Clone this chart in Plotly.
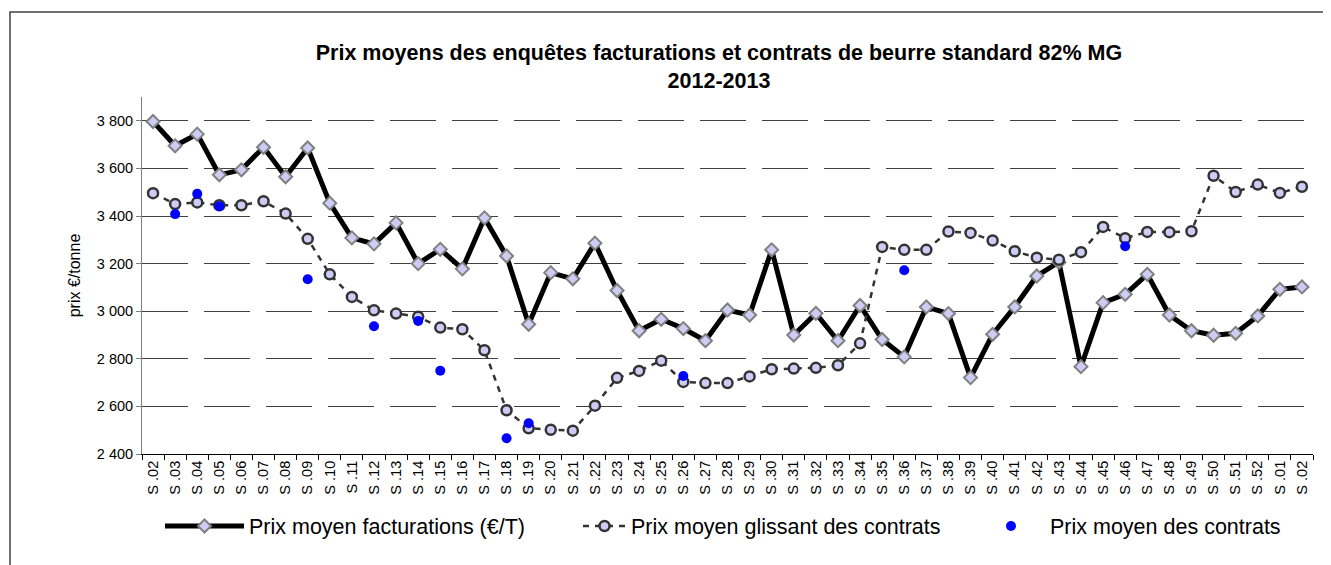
import plotly.graph_objects as go

# ---- data ----
semaines = ["S .02", "S .03", "S .04", "S .05", "S .06", "S .07", "S .08", "S .09", "S .10",
            "S .11", "S .12", "S .13", "S .14", "S .15", "S .16", "S .17", "S .18", "S .19", "S .20",
            "S .21", "S .22", "S .23", "S .24", "S .25", "S .26", "S .27", "S .28", "S .29", "S .30",
            "S .31", "S .32", "S .33", "S .34", "S .35", "S .36", "S .37", "S .38", "S .39", "S .40",
            "S .41", "S .42", "S .43", "S .44", "S .45", "S .46", "S .47", "S .48", "S .49", "S .50",
            "S .51", "S .52", "S .01", "S .02"]
annees = [2012] * 51 + [2013] * 2
periodes = [f"{a}-{s}" for a, s in zip(annees, semaines)]

prix_facturations = [3797, 3695, 3744, 3573, 3594, 3689, 3565, 3686, 3454,
                     3308, 3283, 3371, 3200, 3260, 3178, 3392, 3232, 2945, 3162,
                     3136, 3286, 3087, 2918, 2966, 2927, 2876, 3005, 2984, 3258,
                     2900, 2991, 2876, 3024, 2881, 2808, 3018, 2990, 2721, 2903,
                     3018, 3148, 3206, 2767, 3036, 3071, 3155, 2984, 2918, 2899,
                     2907, 2980, 3092, 3102]

prix_glissant = [3496, 3450, 3457, 3445, 3445, 3462, 3410, 3304, 3155,
                 3060, 3004, 2990, 2977, 2931, 2924, 2836, 2584, 2508, 2502,
                 2498, 2603, 2720, 2749, 2792, 2703, 2698, 2698, 2726, 2756,
                 2759, 2762, 2773, 2865, 3270, 3258, 3258, 3335, 3329, 3297,
                 3252, 3225, 3216, 3248, 3354, 3307, 3333, 3332, 3336, 3569,
                 3501, 3532, 3497, 3523]

prix_contrats = [None, 3408, 3493, 3441, None, None, None, 3134, None,
                 None, 2937, None, 2959, 2750, None, None, 2466, 2529, None,
                 None, None, None, None, None, 2728, None, None, None, None,
                 None, None, None, None, None, 3172, None, None, None, None,
                 None, None, None, None, None, 3273, None, None, None, None,
                 None, None, None, None]

W, H = 1331, 565
L, R, T, B = 134, 26, 89, 119
FONT = "Liberation Sans, Arial, sans-serif"

fig = go.Figure()
fig.add_trace(go.Scatter(
    x=periodes, y=prix_facturations, mode="lines+markers",
    name="Prix moyen facturations (€/T)",
    line=dict(color="black", width=5),
    marker=dict(symbol="diamond", size=10, color="#ccccf5",
                line=dict(color="#808080", width=2)),
    legend="legend"))
fig.add_trace(go.Scatter(
    x=periodes, y=prix_glissant, mode="lines+markers",
    name="Prix moyen glissant des contrats",
    line=dict(color="#333333", width=2.5, dash="6px,6px"),
    marker=dict(symbol="circle", size=10, color="#ccccf5",
                line=dict(color="#333333", width=2.5)),
    legend="legend2"))
fig.add_trace(go.Scatter(
    x=periodes, y=prix_contrats, mode="markers",
    name="Prix moyen des contrats",
    marker=dict(symbol="circle", size=10, color="#0000ff"),
    legend="legend3"))

ly = 1 - 518 / H
LFS = 21.5
fig.update_layout(
    width=W, height=H,
    margin=dict(l=L, r=R, t=T, b=B, autoexpand=False),
    paper_bgcolor="white", plot_bgcolor="white",
    font=dict(family=FONT, color="black", size=15),
    separators=", ",
    title=dict(text="<b>Prix moyens des enquêtes facturations et contrats de beurre standard 82% MG<br>2012-2013</b>",
               font=dict(size=21.5, family=FONT, color="black"),
               xref="container", yref="container",
               x=711 / W, xanchor="center", y=1 - 52 / H, yanchor="top"),
    legend=dict(orientation="h", xref="container", yref="container",
                x=152 / W, xanchor="left", y=ly, yanchor="middle",
                itemwidth=79, font=dict(size=LFS, family=FONT), bgcolor="rgba(0,0,0,0)"),
    legend2=dict(orientation="h", xref="container", yref="container",
                 x=570 / W, xanchor="left", y=ly, yanchor="middle",
                 itemwidth=43, font=dict(size=LFS, family=FONT), bgcolor="rgba(0,0,0,0)"),
    legend3=dict(orientation="h", xref="container", yref="container",
                 x=964 / W, xanchor="left", y=ly, yanchor="middle",
                 itemwidth=68, font=dict(size=LFS, family=FONT), bgcolor="rgba(0,0,0,0)"),
    showlegend=True,
)

fig.update_xaxes(
    type="category", categoryorder="array", categoryarray=periodes,
    tickmode="array", tickvals=periodes, ticktext=semaines,
    tickson="boundaries", ticks="outside", ticklen=5, tickcolor="black",
    tickangle=-90, tickfont=dict(size=14.5, family=FONT),
    showline=True, linecolor="black", linewidth=1,
    showgrid=False, zeroline=False, range=[-0.5, 52.5], automargin=False,
)
fig.update_yaxes(
    range=[2400, 3900], tick0=2400, dtick=200, tickformat=",",
    ticks="outside", ticklen=5, tickcolor="#808080",
    tickfont=dict(size=14.5, family=FONT),
    showline=True, linecolor="#808080", linewidth=1,
    showgrid=True, gridcolor="#404040", gridwidth=1, griddash="46px,16px",
    zeroline=False, automargin=False,
    title=dict(text="prix €/tonne", font=dict(size=16, family=FONT), standoff=12),
)

# outer chart frame (cropped on right / bottom)
pw = W - L - R
ph = H - T - B
fig.add_shape(type="rect", xref="paper", yref="paper",
              x0=(2 - L) / pw, x1=(W + 20 - L) / pw,
              y0=-(B + 20) / ph, y1=(H - B - 4) / ph,
              line=dict(color="#404040", width=1.5), fillcolor="rgba(0,0,0,0)", layer="below")

fig.write_html("out.html")
